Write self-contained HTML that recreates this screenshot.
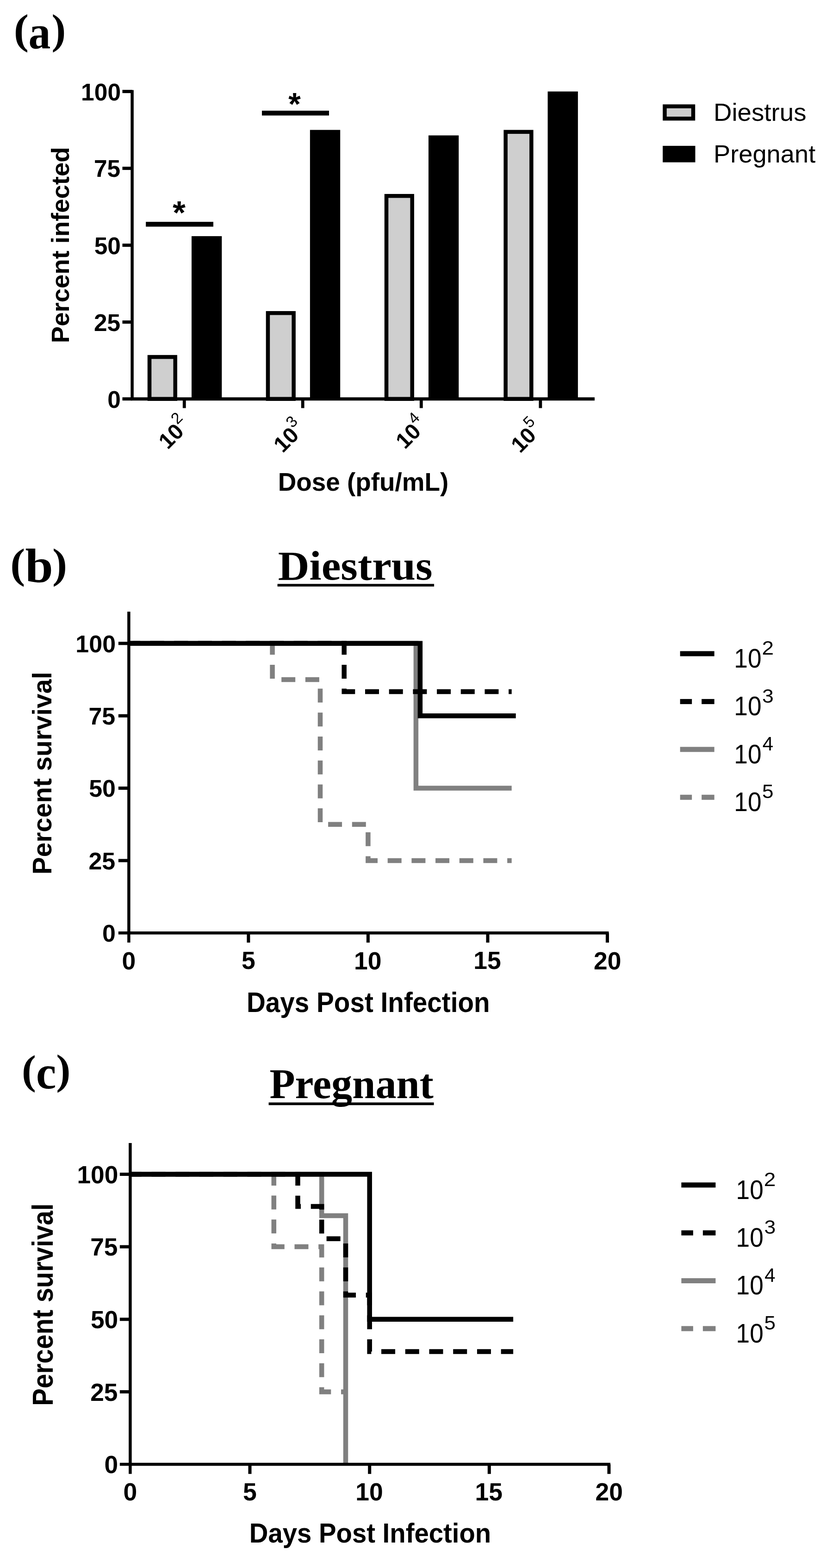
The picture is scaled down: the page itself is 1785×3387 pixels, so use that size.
<!DOCTYPE html>
<html><head><meta charset="utf-8"><title>Figure</title>
<style>html,body{margin:0;padding:0;background:#fff;}svg{display:block;}</style></head>
<body><svg width="1785" height="3387" viewBox="0 0 1785 3387">
<rect width="1785" height="3387" fill="#fff"/>
<text font-family="'Liberation Serif', 'Times New Roman', serif" font-weight="bold"><tspan x="29.84" y="93.83" font-size="90.11" textLength="32.26" lengthAdjust="spacingAndGlyphs">(</tspan><tspan x="61.53" y="104.18" font-size="101.88" textLength="47.91" lengthAdjust="spacingAndGlyphs">a</tspan><tspan x="111.43" y="94.07" font-size="91.11" textLength="30.74" lengthAdjust="spacingAndGlyphs">)</tspan></text>
<rect x="323.05" y="771.08" width="55.70" height="90.62" fill="#cfcfcf" stroke="#000" stroke-width="8.5"/>
<rect x="414.00" y="510.12" width="65.30" height="351.58" fill="#000"/>
<rect x="578.95" y="676.21" width="55.70" height="185.49" fill="#cfcfcf" stroke="#000" stroke-width="8.5"/>
<rect x="669.90" y="280.61" width="65.30" height="581.09" fill="#000"/>
<rect x="835.05" y="423.22" width="55.70" height="438.48" fill="#cfcfcf" stroke="#000" stroke-width="8.5"/>
<rect x="926.00" y="292.47" width="65.30" height="569.23" fill="#000"/>
<rect x="1092.65" y="284.86" width="55.70" height="576.84" fill="#cfcfcf" stroke="#000" stroke-width="8.5"/>
<rect x="1183.60" y="197.60" width="65.30" height="664.10" fill="#000"/>
<g stroke="#000" stroke-width="6.5" fill="none">
<line x1="285.6" y1="194.6" x2="285.6" y2="861.7"/>
<line x1="282.6" y1="861.7" x2="1285" y2="861.7" stroke-width="7"/>
<line x1="264.5" y1="861.7" x2="285.6" y2="861.7" stroke-width="7"/>
<line x1="264.5" y1="695.7" x2="285.6" y2="695.7" stroke-width="7"/>
<line x1="264.5" y1="529.7" x2="285.6" y2="529.7" stroke-width="7"/>
<line x1="264.5" y1="363.6" x2="285.6" y2="363.6" stroke-width="7"/>
<line x1="264.5" y1="197.6" x2="285.6" y2="197.6" stroke-width="7"/>
<line x1="398.3" y1="861.7" x2="398.3" y2="881.5" stroke-width="6.8"/>
<line x1="654.2" y1="861.7" x2="654.2" y2="881.5" stroke-width="6.8"/>
<line x1="910.3" y1="861.7" x2="910.3" y2="881.5" stroke-width="6.8"/>
<line x1="1167.9" y1="861.7" x2="1167.9" y2="881.5" stroke-width="6.8"/>
</g>
<text x="232.28" y="880.67" font-family="'Liberation Sans', Arial, Helvetica, sans-serif" font-weight="bold" font-size="51.5">0</text>
<text x="202.92" y="714.64" font-family="'Liberation Sans', Arial, Helvetica, sans-serif" font-weight="bold" font-size="51.5">25</text>
<text x="203.69" y="548.62" font-family="'Liberation Sans', Arial, Helvetica, sans-serif" font-weight="bold" font-size="51.5">50</text>
<text x="202.92" y="382.34" font-family="'Liberation Sans', Arial, Helvetica, sans-serif" font-weight="bold" font-size="51.5">75</text>
<text x="175.11" y="216.57" font-family="'Liberation Sans', Arial, Helvetica, sans-serif" font-weight="bold" font-size="51.5">100</text>
<rect x="315.2" y="479.2" width="145.8" height="10.4" fill="#000"/>
<rect x="566" y="239.1" width="145" height="10.4" fill="#000"/>
<text x="373.24" y="483.79" font-family="'Liberation Sans', Arial, Helvetica, sans-serif" font-weight="bold" font-size="70.27" textLength="27.65" lengthAdjust="spacingAndGlyphs">*</text>
<text x="623.16" y="248.20" font-family="'Liberation Sans', Arial, Helvetica, sans-serif" font-weight="bold" font-size="68.92" textLength="26.63" lengthAdjust="spacingAndGlyphs">*</text>
<text transform="translate(362.6,972.25) rotate(-45)" font-family="'Liberation Sans', Arial, Helvetica, sans-serif"><tspan font-weight="bold" font-size="47.5">10</tspan><tspan dy="-23.75" font-size="34.2">2</tspan></text>
<text transform="translate(611.1,979.85) rotate(-45)" font-family="'Liberation Sans', Arial, Helvetica, sans-serif"><tspan font-weight="bold" font-size="47.5">10</tspan><tspan dy="-23.75" font-size="34.2">3</tspan></text>
<text transform="translate(874.9,971.85) rotate(-45)" font-family="'Liberation Sans', Arial, Helvetica, sans-serif"><tspan font-weight="bold" font-size="47.5">10</tspan><tspan dy="-23.75" font-size="34.2">4</tspan></text>
<text transform="translate(1123.9,980.35) rotate(-45)" font-family="'Liberation Sans', Arial, Helvetica, sans-serif"><tspan font-weight="bold" font-size="47.5">10</tspan><tspan dy="-23.75" font-size="34.2">5</tspan></text>
<text x="600.64" y="1059.60" font-family="'Liberation Sans', Arial, Helvetica, sans-serif" font-weight="bold" font-size="55.22" textLength="368.53" lengthAdjust="spacingAndGlyphs">Dose (pfu/mL)</text>
<text transform="translate(148.80,737.60) rotate(-90)" x="-3.54" y="0" font-family="'Liberation Sans', Arial, Helvetica, sans-serif" font-weight="bold" font-size="54.20" textLength="423.61" lengthAdjust="spacingAndGlyphs">Percent infected</text>
<rect x="1436.5" y="229.7" width="61.5" height="26.5" fill="#cfcfcf" stroke="#000" stroke-width="8.5"/>
<rect x="1432.2" y="315" width="70.3" height="35.6" fill="#000"/>
<text x="1541.92" y="260.90" font-family="'Liberation Sans', Arial, Helvetica, sans-serif" font-weight="normal" font-size="54.49" textLength="200.66" lengthAdjust="spacingAndGlyphs">Diestrus</text>
<text x="1541.96" y="350.70" font-family="'Liberation Sans', Arial, Helvetica, sans-serif" font-weight="normal" font-size="54.49" textLength="220.32" lengthAdjust="spacingAndGlyphs">Pregnant</text>
<path d="M278.4,1389.8 L588.6,1389.8 L588.6,1468.0 L692.0,1468.0 L692.0,1780.7 L795.4,1780.7 L795.4,1858.9 L1105.7,1858.9" fill="none" stroke="#808080" stroke-width="10.5" stroke-dasharray="30 21.70" stroke-dashoffset="5.6"/>
<path d="M278.4,1389.8 L898.9,1389.8 L898.9,1702.5 L1105.7,1702.5" fill="none" stroke="#808080" stroke-width="10.5"/>
<path d="M278.4,1389.8 L743.7,1389.8 L743.7,1494.0 L1105.7,1494.0" fill="none" stroke="#000" stroke-width="10.5" stroke-dasharray="30 21.70" stroke-dashoffset="5.6"/>
<path d="M287.4,1389.8 L907.9,1389.8 L907.9,1546.2 L1114.7,1546.2" fill="none" stroke="#000" stroke-width="10.5"/>
<g stroke="#000" stroke-width="6.5" fill="none">
<line x1="278.4" y1="1321.3" x2="278.4" y2="2036.1"/>
<line x1="255.89999999999998" y1="2015.3" x2="1315.5" y2="2015.3"/>
<line x1="255.89999999999998" y1="1858.9" x2="278.4" y2="1858.9" stroke-width="7"/>
<line x1="255.89999999999998" y1="1702.5" x2="278.4" y2="1702.5" stroke-width="7"/>
<line x1="255.89999999999998" y1="1546.2" x2="278.4" y2="1546.2" stroke-width="7"/>
<line x1="255.89999999999998" y1="1389.8" x2="278.4" y2="1389.8" stroke-width="7"/>
<line x1="536.9" y1="2015.3" x2="536.9" y2="2036.1" stroke-width="7"/>
<line x1="795.4" y1="2015.3" x2="795.4" y2="2036.1" stroke-width="7"/>
<line x1="1054.0" y1="2015.3" x2="1054.0" y2="2036.1" stroke-width="7"/>
<line x1="1312.5" y1="2015.3" x2="1312.5" y2="2036.1" stroke-width="7"/>
</g>
<text x="221.02" y="2034.24" font-family="'Liberation Sans', Arial, Helvetica, sans-serif" font-weight="bold" font-size="52">0</text>
<text x="191.38" y="1877.87" font-family="'Liberation Sans', Arial, Helvetica, sans-serif" font-weight="bold" font-size="52">25</text>
<text x="192.16" y="1721.49" font-family="'Liberation Sans', Arial, Helvetica, sans-serif" font-weight="bold" font-size="52">50</text>
<text x="191.38" y="1564.86" font-family="'Liberation Sans', Arial, Helvetica, sans-serif" font-weight="bold" font-size="52">75</text>
<text x="163.30" y="1408.74" font-family="'Liberation Sans', Arial, Helvetica, sans-serif" font-weight="bold" font-size="52">100</text>
<text x="263.55" y="2093.55" font-family="'Liberation Sans', Arial, Helvetica, sans-serif" font-weight="bold" font-size="53.5">0</text>
<text x="521.94" y="2093.01" font-family="'Liberation Sans', Arial, Helvetica, sans-serif" font-weight="bold" font-size="53.5">5</text>
<text x="765.09" y="2093.55" font-family="'Liberation Sans', Arial, Helvetica, sans-serif" font-weight="bold" font-size="53.5">10</text>
<text x="1023.21" y="2093.01" font-family="'Liberation Sans', Arial, Helvetica, sans-serif" font-weight="bold" font-size="53.5">15</text>
<text x="1282.94" y="2093.55" font-family="'Liberation Sans', Arial, Helvetica, sans-serif" font-weight="bold" font-size="53.5">20</text>
<text font-family="'Liberation Serif', 'Times New Roman', serif" font-weight="bold"><tspan x="22.18" y="1248.14" font-size="90.99" textLength="32.00" lengthAdjust="spacingAndGlyphs">(</tspan><tspan x="54.58" y="1257.06" font-size="103.83" textLength="60.18" lengthAdjust="spacingAndGlyphs">b</tspan><tspan x="113.00" y="1248.38" font-size="92.00" textLength="32.15" lengthAdjust="spacingAndGlyphs">)</tspan></text>
<text x="600.72" y="1252.20" font-family="'Liberation Serif', 'Times New Roman', serif" font-weight="bold" font-size="89.01" textLength="333.94" lengthAdjust="spacingAndGlyphs">Diestrus</text>
<rect x="599.6" y="1261.3" width="338.5" height="5.6" fill="#000"/>
<text x="532.92" y="2185.80" font-family="'Liberation Sans', Arial, Helvetica, sans-serif" font-weight="bold" font-size="61.30" textLength="525.69" lengthAdjust="spacingAndGlyphs">Days Post Infection</text>
<text transform="translate(110.80,1885.30) rotate(-90)" x="-3.68" y="0" font-family="'Liberation Sans', Arial, Helvetica, sans-serif" font-weight="bold" font-size="58.26" textLength="437.75" lengthAdjust="spacingAndGlyphs">Percent survival</text>
<rect x="1469.7" y="1406.5" width="74" height="11" fill="#000"/>
<text font-family="'Liberation Sans', Arial, Helvetica, sans-serif"><tspan x="1586.31" y="1441.80" font-weight="normal" font-size="57.68" textLength="59.25" lengthAdjust="spacingAndGlyphs">10</tspan><tspan x="1646.59" y="1414.20" font-weight="normal" font-size="42.57" textLength="25.67" lengthAdjust="spacingAndGlyphs">2</tspan></text>
<rect x="1469.7" y="1509.9" width="25.5" height="11" fill="#000"/>
<rect x="1516.2" y="1509.9" width="27.5" height="11" fill="#000"/>
<text font-family="'Liberation Sans', Arial, Helvetica, sans-serif"><tspan x="1586.31" y="1545.20" font-weight="normal" font-size="57.68" textLength="59.25" lengthAdjust="spacingAndGlyphs">10</tspan><tspan x="1647.11" y="1517.60" font-weight="normal" font-size="42.57" textLength="24.85" lengthAdjust="spacingAndGlyphs">3</tspan></text>
<rect x="1469.7" y="1613.3" width="74" height="11" fill="#808080"/>
<text font-family="'Liberation Sans', Arial, Helvetica, sans-serif"><tspan x="1586.31" y="1648.60" font-weight="normal" font-size="57.68" textLength="59.25" lengthAdjust="spacingAndGlyphs">10</tspan><tspan x="1647.85" y="1621.00" font-weight="normal" font-size="43.19" textLength="23.36" lengthAdjust="spacingAndGlyphs">4</tspan></text>
<rect x="1469.7" y="1716.7" width="25.5" height="11" fill="#808080"/>
<rect x="1516.2" y="1716.7" width="27.5" height="11" fill="#808080"/>
<text font-family="'Liberation Sans', Arial, Helvetica, sans-serif"><tspan x="1586.31" y="1752.00" font-weight="normal" font-size="57.68" textLength="59.25" lengthAdjust="spacingAndGlyphs">10</tspan><tspan x="1647.13" y="1724.40" font-weight="normal" font-size="43.19" textLength="24.59" lengthAdjust="spacingAndGlyphs">5</tspan></text>
<path d="M281.4,2536.5 L591.8,2536.5 L591.8,2693.1 L695.2,2693.1 L695.2,3006.4 L747.0,3006.4" fill="none" stroke="#808080" stroke-width="10.5" stroke-dasharray="30 21.73" stroke-dashoffset="5.6"/>
<path d="M281.4,2536.5 L695.2,2536.5 L695.2,2626.0 L747.0,2626.0 L747.0,3163.0" fill="none" stroke="#808080" stroke-width="10.5"/>
<path d="M281.4,2536.5 L643.5,2536.5 L643.5,2606.1 L695.2,2606.1 L695.2,2675.7 L747.0,2675.7 L747.0,2797.5 L798.7,2797.5 L798.7,2919.4 L1109.1,2919.4" fill="none" stroke="#000" stroke-width="10.5" stroke-dasharray="30 21.73" stroke-dashoffset="5.6"/>
<path d="M281.4,2536.5 L798.7,2536.5 L798.7,2849.8 L1109.1,2849.8" fill="none" stroke="#000" stroke-width="10.5"/>
<g stroke="#000" stroke-width="6.5" fill="none">
<line x1="281.4" y1="2469.0" x2="281.4" y2="3183.8"/>
<line x1="258.9" y1="3163.0" x2="1319.0" y2="3163.0"/>
<line x1="258.9" y1="3006.4" x2="281.4" y2="3006.4" stroke-width="7"/>
<line x1="258.9" y1="2849.8" x2="281.4" y2="2849.8" stroke-width="7"/>
<line x1="258.9" y1="2693.1" x2="281.4" y2="2693.1" stroke-width="7"/>
<line x1="258.9" y1="2536.5" x2="281.4" y2="2536.5" stroke-width="7"/>
<line x1="540.0" y1="3163.0" x2="540.0" y2="3183.8" stroke-width="7"/>
<line x1="798.7" y1="3163.0" x2="798.7" y2="3183.8" stroke-width="7"/>
<line x1="1057.3" y1="3163.0" x2="1057.3" y2="3183.8" stroke-width="7"/>
<line x1="1316.0" y1="3163.0" x2="1316.0" y2="3183.8" stroke-width="7"/>
</g>
<text x="225.55" y="3182.39" font-family="'Liberation Sans', Arial, Helvetica, sans-serif" font-weight="bold" font-size="53.3">0</text>
<text x="195.17" y="3025.76" font-family="'Liberation Sans', Arial, Helvetica, sans-serif" font-weight="bold" font-size="53.3">25</text>
<text x="195.97" y="2869.14" font-family="'Liberation Sans', Arial, Helvetica, sans-serif" font-weight="bold" font-size="53.3">50</text>
<text x="195.17" y="2712.25" font-family="'Liberation Sans', Arial, Helvetica, sans-serif" font-weight="bold" font-size="53.3">75</text>
<text x="166.39" y="2555.89" font-family="'Liberation Sans', Arial, Helvetica, sans-serif" font-weight="bold" font-size="53.3">100</text>
<text x="266.55" y="3241.25" font-family="'Liberation Sans', Arial, Helvetica, sans-serif" font-weight="bold" font-size="53.5">0</text>
<text x="525.07" y="3240.72" font-family="'Liberation Sans', Arial, Helvetica, sans-serif" font-weight="bold" font-size="53.5">5</text>
<text x="768.34" y="3241.25" font-family="'Liberation Sans', Arial, Helvetica, sans-serif" font-weight="bold" font-size="53.5">10</text>
<text x="1026.59" y="3240.72" font-family="'Liberation Sans', Arial, Helvetica, sans-serif" font-weight="bold" font-size="53.5">15</text>
<text x="1286.44" y="3241.25" font-family="'Liberation Sans', Arial, Helvetica, sans-serif" font-weight="bold" font-size="53.5">20</text>
<text font-family="'Liberation Serif', 'Times New Roman', serif" font-weight="bold"><tspan x="47.04" y="2341.19" font-size="89.34" textLength="30.82" lengthAdjust="spacingAndGlyphs">(</tspan><tspan x="77.98" y="2350.98" font-size="102.08" textLength="43.35" lengthAdjust="spacingAndGlyphs">c</tspan><tspan x="121.28" y="2341.43" font-size="90.33" textLength="31.26" lengthAdjust="spacingAndGlyphs">)</tspan></text>
<text x="582.45" y="2371.80" font-family="'Liberation Serif', 'Times New Roman', serif" font-weight="bold" font-size="91.60" textLength="354.43" lengthAdjust="spacingAndGlyphs">Pregnant</text>
<rect x="580.6" y="2381.4" width="357" height="5.8" fill="#000"/>
<text x="538.74" y="3331.80" font-family="'Liberation Sans', Arial, Helvetica, sans-serif" font-weight="bold" font-size="58.55" textLength="522.44" lengthAdjust="spacingAndGlyphs">Days Post Infection</text>
<text transform="translate(113.60,3033.00) rotate(-90)" x="-3.68" y="0" font-family="'Liberation Sans', Arial, Helvetica, sans-serif" font-weight="bold" font-size="62.32" textLength="437.24" lengthAdjust="spacingAndGlyphs">Percent survival</text>
<rect x="1472.4" y="2554.2" width="74" height="11" fill="#000"/>
<text font-family="'Liberation Sans', Arial, Helvetica, sans-serif"><tspan x="1590.61" y="2589.50" font-weight="normal" font-size="57.68" textLength="59.25" lengthAdjust="spacingAndGlyphs">10</tspan><tspan x="1650.89" y="2561.90" font-weight="normal" font-size="42.57" textLength="25.67" lengthAdjust="spacingAndGlyphs">2</tspan></text>
<rect x="1472.4" y="2657.6" width="25.5" height="11" fill="#000"/>
<rect x="1518.9" y="2657.6" width="27.5" height="11" fill="#000"/>
<text font-family="'Liberation Sans', Arial, Helvetica, sans-serif"><tspan x="1590.61" y="2692.90" font-weight="normal" font-size="57.68" textLength="59.25" lengthAdjust="spacingAndGlyphs">10</tspan><tspan x="1651.41" y="2665.30" font-weight="normal" font-size="42.57" textLength="24.85" lengthAdjust="spacingAndGlyphs">3</tspan></text>
<rect x="1472.4" y="2761.0" width="74" height="11" fill="#808080"/>
<text font-family="'Liberation Sans', Arial, Helvetica, sans-serif"><tspan x="1590.61" y="2796.30" font-weight="normal" font-size="57.68" textLength="59.25" lengthAdjust="spacingAndGlyphs">10</tspan><tspan x="1652.15" y="2768.70" font-weight="normal" font-size="43.19" textLength="23.36" lengthAdjust="spacingAndGlyphs">4</tspan></text>
<rect x="1472.4" y="2864.4" width="25.5" height="11" fill="#808080"/>
<rect x="1518.9" y="2864.4" width="27.5" height="11" fill="#808080"/>
<text font-family="'Liberation Sans', Arial, Helvetica, sans-serif"><tspan x="1590.61" y="2899.70" font-weight="normal" font-size="57.68" textLength="59.25" lengthAdjust="spacingAndGlyphs">10</tspan><tspan x="1651.43" y="2872.10" font-weight="normal" font-size="43.19" textLength="24.59" lengthAdjust="spacingAndGlyphs">5</tspan></text>
</svg></body></html>
